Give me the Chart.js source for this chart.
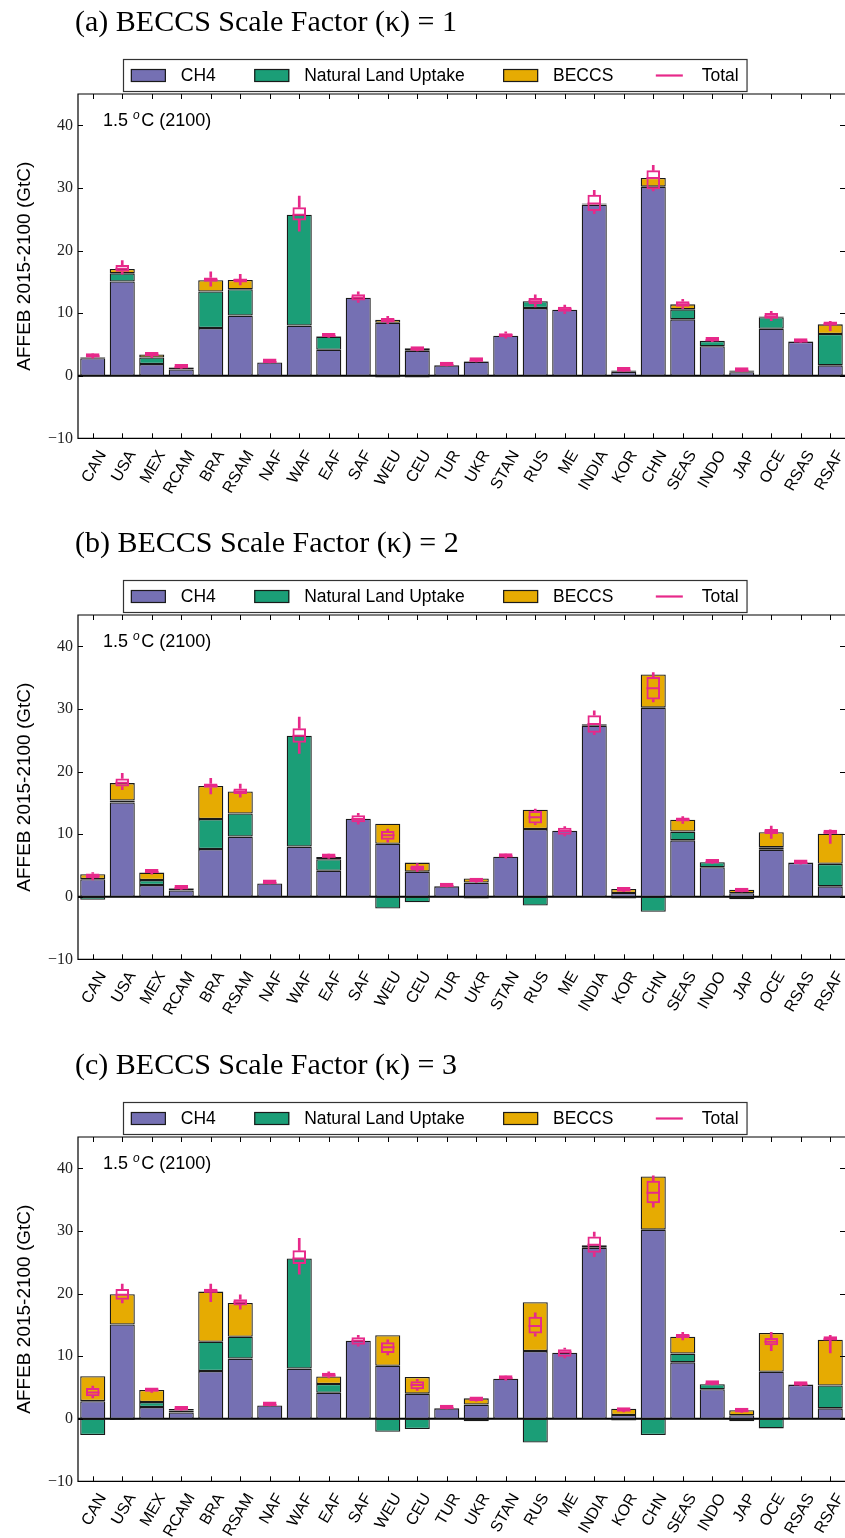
<!DOCTYPE html>
<html><head><meta charset="utf-8">
<script src="https://cdn.jsdelivr.net/npm/chart.js@4.4.1/dist/chart.umd.min.js"></script>
<style>
html,body{margin:0;padding:0;background:#fff;width:845px;height:1538px;overflow:hidden;}
.panel{position:absolute;left:0;width:845px;height:522px;}
canvas{display:block;}
</style></head><body>
<div class="panel" style="top:0px"><canvas id="cA" width="845" height="522"></canvas></div>
<div class="panel" style="top:521px"><canvas id="cB" width="845" height="522"></canvas></div>
<div class="panel" style="top:1043px"><canvas id="cC" width="845" height="522"></canvas></div>
<script>
// ---------------- DATA ----------------
const regions = ['CAN','USA','MEX','RCAM','BRA','RSAM','NAF','WAF','EAF','SAF','WEU','CEU','TUR','UKR','STAN','RUS','ME','INDIA','KOR','CHN','SEAS','INDO','JAP','OCE','RSAS','RSAF'];
const yTickValues = [-10, 0, 10, 20, 30, 40];
const panelTitles = ['(a) BECCS Scale Factor (\u03BA) = 1', '(b) BECCS Scale Factor (\u03BA) = 2', '(c) BECCS Scale Factor (\u03BA) = 3'];
const seriesLabels = ['CH4', 'Natural Land Uptake', 'BECCS', 'Total'];
const yAxisTitle = 'AFFEB 2015-2100 (GtC)';

const ch4 = [2.8, 15.05, 1.85, 1.0, 7.6, 9.6, 2.1, 8.0, 4.15, 12.45, 8.45, 4.0, 1.65, 2.25, 6.4, 10.8, 10.55, 27.3, 0.6, 30.2, 9.0, 4.7, 0.55, 7.5, 5.4, 1.65];

const landK1  = [0.1, 1.3, 1.05, 0.3, 5.85, 4.2, 0, 17.7, 2.1, 0, -0.3, -0.3, 0, 0.05, 0, 1.1, 0, 0.1, 0.1, 0, 1.6, 0.85, 0.15, 1.85, 0.05, 5.0];
const beccsK1 = [0.1, 0.7, 0.5, 0.05, 1.8, 1.5, 0, 0, 0.1, 0, 0.5, 0.4, 0, 0.05, 0, 0.05, 0, 0.1, 0.15, 1.4, 0.8, 0.05, 0.15, 0.1, 0.05, 1.55];
const landK2  = [-0.5, 0.3, 0.8, 0.3, 4.8, 3.7, 0, 17.7, 1.85, 0, -1.9, -0.9, 0, -0.3, 0, -1.4, 0, 0, -0.3, -2.4, 1.4, 0.8, -0.4, 0.4, 0, 3.6];
const beccsK2 = [0.8, 2.8, 1.2, 0.1, 5.3, 3.5, 0, 0, 0.35, 0, 3.2, 1.45, 0, 0.65, 0, 3.1, 0, 0.25, 0.65, 5.3, 1.9, 0.05, 0.55, 2.4, 0.05, 4.8];
const landK3  = [-2.6, -0.2, 0.8, 0.3, 4.7, 3.5, 0, 17.6, 1.4, 0, -2.1, -1.65, 0, -0.4, 0, -3.8, 0, 0, -0.3, -2.6, 1.4, 0.8, -0.4, -1.55, 0, 3.65];
const beccsK3 = [4.0, 4.85, 1.95, 0.25, 8.0, 5.4, 0, 0, 1.2, 0, 4.9, 2.65, 0, 1.0, 0, 7.8, 0, 0.4, 1.0, 8.5, 2.7, 0.05, 0.8, 6.2, 0.05, 7.3];

// Total (box plot): median, quartiles, whisker ends
const totMedK1 = [3.1, 17.1, 3.35, 1.35, 15.3, 15.3, 2.2, 25.7, 6.35, 12.5, 8.8, 4.2, 1.7, 2.4, 6.5, 11.9, 10.6, 27.5, 0.85, 31.6, 11.4, 5.65, 0.8, 9.5, 5.45, 8.2];
const totQ1K1  = [2.95, 16.6, 3.15, 1.25, 15.0, 14.9, 2.1, 24.8, 6.2, 12.0, 8.5, 4.05, 1.6, 2.3, 6.15, 11.4, 10.2, 26.3, 0.75, 29.8, 11.0, 5.55, 0.7, 9.1, 5.35, 8.0];
const totQ3K1  = [3.3, 17.7, 3.5, 1.45, 15.7, 15.5, 2.3, 26.9, 6.5, 13.0, 9.2, 4.35, 1.8, 2.5, 6.8, 12.4, 11.0, 28.9, 0.95, 32.8, 11.9, 5.8, 0.9, 10.0, 5.6, 8.6];
const totLoK1  = [2.8, 16.2, 2.9, 1.15, 14.3, 14.5, 2.05, 23.1, 6.1, 11.7, 8.3, 3.95, 1.55, 2.2, 6.0, 11.0, 9.9, 25.9, 0.7, 29.5, 10.7, 5.45, 0.65, 8.8, 5.3, 7.2];
const totHiK1  = [3.5, 18.4, 3.7, 1.6, 16.6, 16.2, 2.35, 28.7, 6.7, 13.4, 9.5, 4.5, 1.85, 2.55, 7.0, 12.9, 11.3, 29.6, 1.0, 33.6, 12.2, 5.9, 0.95, 10.3, 5.65, 8.7];

const totMedK2 = [3.3, 18.2, 3.95, 1.35, 17.7, 16.8, 2.2, 25.7, 6.4, 12.4, 9.8, 4.6, 1.7, 2.5, 6.45, 12.7, 10.5, 27.6, 1.0, 33.3, 12.3, 5.5, 0.9, 10.4, 5.4, 10.2];
const totQ1K2  = [2.95, 17.6, 3.8, 1.25, 17.4, 16.4, 2.1, 24.6, 6.25, 11.9, 9.1, 4.2, 1.6, 2.4, 6.3, 11.7, 9.9, 26.2, 0.9, 31.5, 12.0, 5.4, 0.8, 10.0, 5.3, 10.05];
const totQ3K2  = [3.7, 18.9, 4.1, 1.45, 18.1, 17.3, 2.3, 26.9, 6.6, 13.0, 10.5, 5.0, 1.8, 2.6, 6.65, 13.7, 11.0, 29.0, 1.1, 35.1, 12.5, 5.6, 1.0, 10.8, 5.5, 10.35];
const totLoK2  = [2.7, 17.1, 3.6, 1.15, 16.4, 15.9, 2.05, 22.9, 6.1, 11.6, 8.7, 4.0, 1.55, 2.3, 6.15, 11.5, 9.7, 25.9, 0.8, 31.1, 11.7, 5.3, 0.75, 9.3, 5.2, 8.5];
const totHiK2  = [3.85, 19.7, 4.3, 1.55, 18.9, 18.0, 2.35, 28.7, 6.8, 13.3, 10.8, 5.3, 1.85, 2.7, 6.8, 14.0, 11.2, 29.7, 1.15, 35.8, 12.8, 5.7, 1.05, 11.3, 5.6, 10.7];

const totMedK3 = [4.2, 19.8, 4.5, 1.5, 20.3, 18.6, 2.2, 25.6, 6.9, 12.45, 11.4, 5.4, 1.7, 3.0, 6.45, 14.8, 10.6, 27.8, 1.3, 36.1, 13.2, 5.6, 1.2, 12.3, 5.45, 12.7];
const totQ1K3  = [3.6, 19.0, 4.35, 1.4, 20.1, 18.1, 2.1, 24.7, 6.7, 11.8, 10.5, 4.7, 1.6, 2.9, 6.3, 13.6, 9.9, 26.5, 1.2, 34.4, 12.9, 5.5, 1.1, 11.75, 5.35, 12.55];
const totQ3K3  = [4.9, 20.7, 4.65, 1.6, 20.7, 19.1, 2.3, 26.9, 7.1, 13.0, 12.2, 6.0, 1.8, 3.1, 6.65, 16.3, 11.1, 29.1, 1.4, 38.0, 13.5, 5.7, 1.3, 12.9, 5.55, 12.85];
const totLoK3  = [3.3, 18.5, 4.2, 1.35, 18.7, 17.5, 2.05, 23.1, 6.5, 11.6, 10.2, 4.5, 1.55, 2.8, 6.15, 13.2, 9.7, 25.9, 1.1, 33.8, 12.6, 5.4, 1.0, 10.85, 5.25, 10.5];
const totHiK3  = [5.2, 21.5, 4.8, 1.65, 21.5, 19.8, 2.35, 28.8, 7.5, 13.3, 12.6, 6.3, 1.85, 3.25, 6.8, 16.9, 11.3, 29.8, 1.45, 38.8, 13.8, 5.8, 1.35, 13.8, 5.65, 13.3];

// ---------------- STYLE ----------------
const COL_CH4 = '#7570b3', COL_LAND = '#1b9e77', COL_BECCS = '#e6ab02', COL_TOTAL = '#e7298a';
const EDGE = '#1a1a1a';
const SANS = '"Liberation Sans", Arial, sans-serif';
const SERIF = '"Liberation Serif", "Times New Roman", serif';

const decorPlugin = {
  id: 'decor',
  beforeDatasetsDraw(chart) {
    const {ctx, chartArea: a, scales: {y}} = chart;
    const y0 = y.getPixelForValue(0);
    ctx.save();
    ctx.strokeStyle = '#000'; ctx.lineWidth = 2;
    ctx.beginPath(); ctx.moveTo(a.left, y0); ctx.lineTo(a.right, y0); ctx.stroke();
    ctx.restore();
  },
  afterDraw(chart, args, opts) {
    const {ctx, chartArea: a, scales: {x, y}} = chart;
    ctx.save();
    // frame (right spine sits just past the visible edge)
    ctx.strokeStyle = '#000'; ctx.lineWidth = 1.2;
    ctx.beginPath();
    ctx.moveTo(a.right + 1, a.top); ctx.lineTo(a.left, a.top); ctx.lineTo(a.left, a.bottom); ctx.lineTo(a.right + 1, a.bottom);
    ctx.moveTo(a.right + 1, a.top); ctx.lineTo(a.right + 1, a.bottom);
    ctx.stroke();
    // inward ticks
    ctx.lineWidth = 1;
    ctx.beginPath();
    y.ticks.forEach(t => {
      const py = Math.round(y.getPixelForValue(t.value)) + 0.5;
      ctx.moveTo(a.left, py); ctx.lineTo(a.left + 5, py);
      ctx.moveTo(a.right, py); ctx.lineTo(a.right - 5, py);
    });
    x.ticks.forEach((t, i) => {
      const px = Math.round(x.getPixelForTick(i)) + 0.5;
      ctx.moveTo(px, a.top); ctx.lineTo(px, a.top + 5);
      ctx.moveTo(px, a.bottom); ctx.lineTo(px, a.bottom - 5);
    });
    ctx.stroke();

    // panel title
    ctx.fillStyle = '#000';
    ctx.textAlign = 'left'; ctx.textBaseline = 'alphabetic';
    ctx.font = '30px ' + SERIF;
    ctx.fillText(opts.title, 75, 31);

    // scenario annotation: 1.5 °C (2100)
    let ax = a.left + 25, ay = a.top + 32;
    ctx.font = '18px ' + SANS;
    ctx.fillText('1.5', ax, ay);
    ax += ctx.measureText('1.5 ').width;
    ctx.font = 'italic 12px ' + SANS;
    ctx.fillText('o', ax, ay - 7);
    ax += ctx.measureText('o').width + 1.5;
    ctx.font = '18px ' + SANS;
    ctx.fillText('C (2100)', ax, ay);

    // legend
    const fs = 17.5;
    ctx.font = fs + 'px ' + SANS;
    const items = chart.data.datasets.filter(d => d.label && !d.noLegend);
    const pad = 0.45 * fs, handle = 2 * fs, htp = 0.85 * fs, colsp = 2.2 * fs;
    const lx = 123, ly = 59, lh = 32;
    let w = 2 * pad;
    items.forEach((it, i) => { w += handle + htp + ctx.measureText(it.label).width + (i < items.length - 1 ? colsp : 0); });
    ctx.fillStyle = '#fff'; ctx.fillRect(lx, ly, w, lh);
    ctx.strokeStyle = '#333'; ctx.lineWidth = 1.2; ctx.strokeRect(lx + 0.5, ly + 0.5, w, lh);
    let cx = lx + pad; const cy = ly + lh / 2 + 0.5;
    items.forEach(it => {
      if (it.type === 'line') {
        ctx.strokeStyle = it.pointBorderColor; ctx.lineWidth = 2.2;
        ctx.beginPath(); ctx.moveTo(cx + 4, cy); ctx.lineTo(cx + handle - 4, cy); ctx.stroke();
      } else {
        ctx.fillStyle = it.backgroundColor; ctx.fillRect(cx, cy - 6.5, handle, 13);
        ctx.strokeStyle = EDGE; ctx.lineWidth = 1.2; ctx.strokeRect(cx + 0.5, cy - 6, handle - 1, 12);
      }
      cx += handle + htp;
      ctx.fillStyle = '#000'; ctx.textBaseline = 'middle';
      ctx.fillText(it.label, cx, cy + 1);
      cx += ctx.measureText(it.label).width + colsp;
    });
    ctx.restore();
  }
};

function buildPanel(canvasId, title, land, beccs, med, q1, q3, lo, hi) {
  const common = { borderColor: EDGE, borderWidth: 1.3, borderSkipped: false, barPercentage: 0.85, categoryPercentage: 1, stack: 'components', order: 5 };
  const datasets = [
    Object.assign({ type: 'bar', label: seriesLabels[0], data: ch4, backgroundColor: COL_CH4 }, common),
    Object.assign({ type: 'bar', label: seriesLabels[1], data: land, backgroundColor: COL_LAND }, common),
    Object.assign({ type: 'bar', label: seriesLabels[2], data: beccs, backgroundColor: COL_BECCS }, common),
    { type: 'bar', label: '', noLegend: true, data: lo.map((v, i) => [v, q1[i]]), backgroundColor: COL_TOTAL, borderWidth: 0,
      grouped: false, maxBarThickness: 2, barPercentage: 1, categoryPercentage: 1, stack: 'wlo', order: 3 },
    { type: 'bar', label: '', noLegend: true, data: q3.map((v, i) => [v, hi[i]]), backgroundColor: COL_TOTAL, borderWidth: 0,
      grouped: false, maxBarThickness: 2, barPercentage: 1, categoryPercentage: 1, stack: 'whi', order: 3 },
    { type: 'bar', label: '', noLegend: true, data: q1.map((v, i) => [v, q3[i]]), backgroundColor: 'rgba(0,0,0,0)',
      borderColor: COL_TOTAL, borderWidth: 2, borderSkipped: false, minBarLength: 4,
      grouped: false, barPercentage: 0.46, categoryPercentage: 1, stack: 'box', order: 2 },
    { type: 'line', label: seriesLabels[3], data: med, showLine: false, pointStyle: 'line', pointRadius: 6.8, pointHoverRadius: 6.8,
      pointBorderWidth: 2, pointBorderColor: COL_TOTAL, pointBackgroundColor: COL_TOTAL, borderColor: COL_TOTAL, stack: 'median', order: 1 }
  ];
  return new Chart(document.getElementById(canvasId), {
    type: 'bar',
    data: { labels: regions, datasets },
    options: {
      responsive: false, animation: false, devicePixelRatio: 1, events: [],
      layout: { autoPadding: false, padding: { top: 94, left: 0, right: 0, bottom: 0 } },
      plugins: { legend: { display: false }, tooltip: { enabled: false }, decor: { title } },
      scales: {
        x: {
          type: 'category', offset: true, stacked: true,
          grid: { display: false, drawTicks: false }, border: { display: false },
          ticks: { autoSkip: false, minRotation: 60, maxRotation: 60, padding: 9, labelOffset: 10,
                   color: '#000', font: { family: SANS, size: 16 } },
          afterFit: s => { s.height = 83.7; s.paddingLeft = 0; s.paddingRight = 0; }
        },
        y: {
          stacked: true, min: -10, max: 45,
          grid: { display: false, drawTicks: false }, border: { display: false },
          afterBuildTicks: s => { s.ticks = yTickValues.map(v => ({ value: v })); },
          ticks: { padding: 5, color: '#222', font: { family: SERIF, size: 16 },
                   callback: v => (v < 0 ? '\u2212' + Math.abs(v) : String(v)) },
          title: { display: true, text: yAxisTitle, color: '#000', font: { family: SANS, size: 19 }, padding: { top: 13, bottom: 0 } },
          afterFit: s => { s.width = 78; }
        }
      }
    },
    plugins: [decorPlugin]
  });
}

buildPanel('cA', panelTitles[0], landK1, beccsK1, totMedK1, totQ1K1, totQ3K1, totLoK1, totHiK1);
buildPanel('cB', panelTitles[1], landK2, beccsK2, totMedK2, totQ1K2, totQ3K2, totLoK2, totHiK2);
buildPanel('cC', panelTitles[2], landK3, beccsK3, totMedK3, totQ1K3, totQ3K3, totLoK3, totHiK3);
</script>
</body></html>
